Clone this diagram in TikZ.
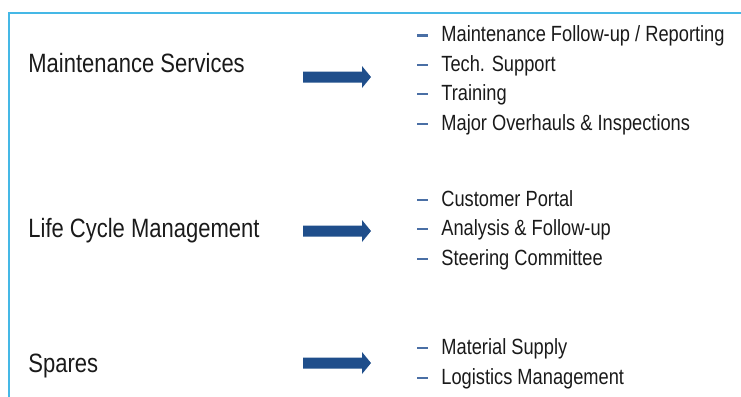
\documentclass[tikz,border=0pt]{standalone}
\usepackage{fontspec}
\usepackage{xcolor}
\newfontfamily\narrowsans[FakeStretch=0.83]{Liberation Sans}
\definecolor{framecyan}{HTML}{45B8E6}
\definecolor{arrowblue}{HTML}{1F4E8B}
\definecolor{dashblue}{HTML}{4A6FA5}
\definecolor{textblack}{HTML}{1A1A1A}
\newcommand{\itemdash}{
    \makebox[12pt][l]{\textcolor{dashblue}{\rule[2.6pt]{5.5pt}{1.1pt}}}\ignorespaces
}
\newcommand{\blockarrow}[1]{
    \fill[arrowblue] (#1) ++(0,-5.5) -- ++(59,0) -- ++(0,-5.5) -- ++(9,11) -- ++(-9,11) -- ++(0,-5.5) -- ++(-59,0) -- cycle;
}

\begin{document}
\begin{tikzpicture}[x=0.5pt, y=-0.5pt,
    service/.style={anchor=base west, inner sep=0, text=textblack, font=\narrowsans\fontsize{13.25}{16}\selectfont},
    tasklist/.style={anchor=base west, inner sep=0, align=left, text=textblack, font=\narrowsans\fontsize{11}{14.7}\selectfont}]
    \useasboundingbox (0,0) rectangle (741,397);

    % frame
    \draw[framecyan, line width=1.3pt] (9,397) -- (9,13) -- (741,13);

    % services
    \node[service] (ms) at (28,72) {Maintenance Services};
    \node[service] (lcm) at (28,237) {Life Cycle Management};
    \node[service] (spares) at (28,372) {Spares};

    % arrows
    \coordinate (msarrow) at (303,77);
    \coordinate (lcmarrow) at (303,231);
    \coordinate (sparesarrow) at (303,363);
    \blockarrow{msarrow}
    \blockarrow{lcmarrow}
    \blockarrow{sparesarrow}

    % what each service covers (anchored at the last line)
    \node[tasklist] (mslist) at (417,130) {
        \itemdash Maintenance Follow-up / Reporting\\
        \itemdash Tech. Support\\
        \itemdash Training\\
        \itemdash Major Overhauls \& Inspections
    };
    \node[tasklist] (lcmlist) at (417,265) {
        \itemdash Customer Portal\\
        \itemdash Analysis \& Follow-up\\
        \itemdash Steering Committee
    };
    \node[tasklist] (spareslist) at (417,384) {
        \itemdash Material Supply\\
        \itemdash Logistics Management
    };
\end{tikzpicture}
\end{document}
